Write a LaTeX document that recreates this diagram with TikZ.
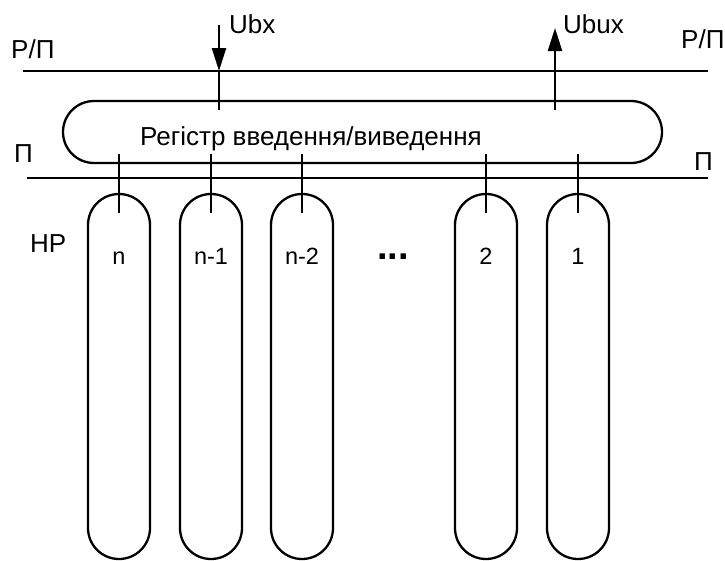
\documentclass[tikz,border=0pt]{standalone}
\usepackage{fontspec}
\setmainfont{Liberation Sans}
\usetikzlibrary{arrows.meta}

\begin{document}
\begin{tikzpicture}[
    x=1pt,
    y=-1pt,
    bus/.style={black, line width=2.3pt},
    wire/.style={black, line width=2.3pt},
    signal/.style={-{Triangle[length=23pt, width=14pt]}},
    regbox/.style={draw, line width=2.3pt, rounded corners=31pt,
        minimum width=599pt, minimum height=62pt, inner sep=0pt},
    cell/.style={draw, line width=2.3pt, rounded corners=31pt,
        minimum width=62pt, minimum height=365pt, inner sep=0pt},
    buslabel/.style={font=\fontsize{26}{30}\selectfont, inner sep=0pt},
    celllabel/.style={font=\fontsize{23.5}{27}\selectfont, inner sep=0pt}
]

% -------------------------------------------------------------------------
% Limits
% -------------------------------------------------------------------------
\useasboundingbox (0,0) rectangle (725,560);

\def\rpY{71}
\def\pY{178}
\def\cellY{376.5}
\def\labelY{264}

% -------------------------------------------------------------------------
% Buses
% -------------------------------------------------------------------------
\coordinate (rp-west) at (23,\rpY);
\coordinate (rp-east) at (708,\rpY);
\coordinate (p-west) at (27,\pY);
\coordinate (p-east) at (708,\pY);

\draw[ bus ] (rp-west) -- (rp-east);
\draw[ bus ] (p-west) -- (p-east);

\node[ buslabel, anchor=base west ] (rp-left)  at ( 11,58)  {Р/П};
\node[ buslabel, anchor=base west ] (rp-right) at (681,48)  {Р/П};
\node[ buslabel, anchor=base west ] (p-left)   at ( 14,162) {П};
\node[ buslabel, anchor=base west ] (p-right)  at (694,170) {П};
\node[ buslabel, anchor=base west ] (nr-label) at ( 30,252) {НР};

% -------------------------------------------------------------------------
% I/O register
% -------------------------------------------------------------------------
\node[ regbox ] (reg) at (362.5,132) {};
\node[ buslabel, anchor=base ] (reg-text) at (311,145)
    {Регістр введення/виведення};

% -------------------------------------------------------------------------
% Input and output signals
% -------------------------------------------------------------------------
\coordinate (in-top) at (219,25);
\coordinate (out-top) at (555,28);

\draw[ wire, signal ] (in-top) -- (in-top |- rp-west);
\draw[ wire ] (in-top |- rp-west) -- ([yshift=-10pt]reg.north -| in-top);
\draw[ wire, signal ] ([yshift=-10pt]reg.north -| out-top) -- (out-top);

\node[ buslabel, anchor=base west ] (in-label)  at (229,33) {Ubx};
\node[ buslabel, anchor=base west ] (out-label) at (563,33) {Ubux};

% -------------------------------------------------------------------------
% Storage cells, each tied to the register
% -------------------------------------------------------------------------
\foreach \cx/\txt [count=\i] in {119/n, 211/n-1, 302/n-2, 486/2, 578/1}{
    \node[ cell ] (cell-\i) at (\cx,\cellY) {};
    \node[ celllabel, anchor=base ] (cell-text-\i) at (\cx,\labelY) {\txt};
    \draw[ wire ]
        ([yshift=10pt]reg.south -| cell-\i.north) -- ([yshift=-20pt]cell-\i.north);
}

% gap between n-2 and 2
\node[ font=\fontsize{38}{40}\selectfont\bfseries, inner sep=0pt, anchor=base ]
    (cell-gap) at (393,259) {...};

\end{tikzpicture}
\end{document}
